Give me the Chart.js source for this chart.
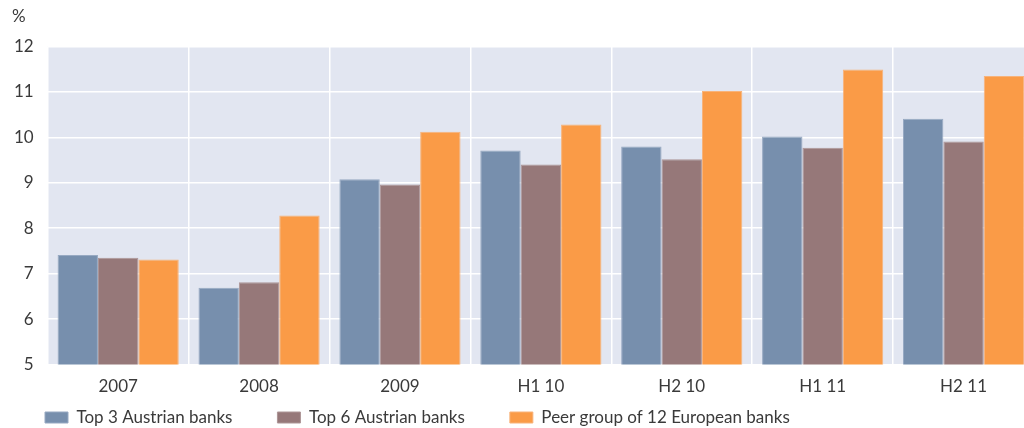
<!DOCTYPE html>
<html>
<head>
<meta charset="utf-8">
<script src="https://cdn.jsdelivr.net/npm/chart.js@4/dist/chart.umd.min.js"></script>
<style>
  html, body { margin: 0; padding: 0; background: #ffffff; overflow: hidden; }
  #wrap { position: relative; width: 1034px; height: 428px; }
</style>
</head>
<body>
<div id="wrap"><canvas id="c"></canvas></div>
<script>
const categories = ["2007", "2008", "2009", "H1 10", "H2 10", "H1 11", "H2 11"];
const seriesNames = ["Top 3 Austrian banks", "Top 6 Austrian banks", "Peer group of 12 European banks"];
const top3 = [7.41, 6.69, 9.08, 9.71, 9.80, 10.02, 10.41];
const top6 = [7.35, 6.81, 8.96, 9.40, 9.52, 9.77, 9.91];
const peer = [7.31, 8.28, 10.12, 10.28, 11.02, 11.49, 11.35];
const yTicks = [5, 6, 7, 8, 9, 10, 11, 12];
const unitLabel = "%";

const textColor = "#3a3a3a";
const fontFamily = "Lato, 'Open Sans', sans-serif";

const plotBg = {
  id: "plotBg",
  beforeDraw(chart) {
    const { ctx, chartArea: a } = chart;
    ctx.save();
    ctx.fillStyle = "#e2e6f1";
    ctx.fillRect(a.left, a.top, a.right - a.left, a.bottom - a.top);
    ctx.restore();
  }
};

const blockShift = {
  id: "blockShift",
  afterLayout(chart) {
    const lg = chart.legend;
    if (lg) {
      lg.top = 364;
      lg.bottom = 428;
      lg.height = 64;
    }
    const tb = chart.titleBlock;
    if (tb) {
      const w = tb.right - tb.left;
      tb.left = 12;
      tb.right = 12 + w;
    }
  }
};

new Chart(document.getElementById("c"), {
  type: "bar",
  data: {
    labels: categories,
    datasets: [
      { label: seriesNames[0], data: top3, backgroundColor: "#778fad", borderColor: "#97a9c2", borderWidth: 1 },
      { label: seriesNames[1], data: top6, backgroundColor: "#967879", borderColor: "#ad9697", borderWidth: 1 },
      { label: seriesNames[2], data: peer, backgroundColor: "#fa9b47", borderColor: "#f8b37a", borderWidth: 1 }
    ]
  },
  options: {
    responsive: true,
    maintainAspectRatio: false,
    animation: false,
    devicePixelRatio: 1,
    layout: { padding: { left: 0, right: 0, top: 0, bottom: 0 } },
    datasets: { bar: { categoryPercentage: 0.86, barPercentage: 1.0 } },
    scales: {
      x: {
        grid: { display: true, offset: true, color: "#ffffff", lineWidth: 1.5, drawTicks: false },
        border: { display: false },
        ticks: { color: textColor, font: { family: fontFamily, size: 17 }, padding: 12 }
      },
      y: {
        min: 5, max: 12,
        afterBuildTicks(axis) { axis.ticks = yTicks.map(v => ({ value: v })); },
        grid: { color: "#ffffff", lineWidth: 1.5, drawTicks: false },
        border: { display: false },
        ticks: { color: textColor, font: { family: fontFamily, size: 17 }, padding: 14 }
      }
    },
    plugins: {
      title: {
        display: true, text: unitLabel, align: "start", color: textColor,
        font: { family: fontFamily, size: 17, weight: "normal" },
        padding: { top: 6, bottom: 20 }
      },
      legend: {
        position: "bottom", align: "start", maxHeight: 19,
        labels: { color: textColor, font: { family: fontFamily, size: 17 }, boxWidth: 23, boxHeight: 11, padding: 45 }
      },
      tooltip: { enabled: false }
    }
  },
  plugins: [plotBg, blockShift]
});
</script>
</body>
</html>
